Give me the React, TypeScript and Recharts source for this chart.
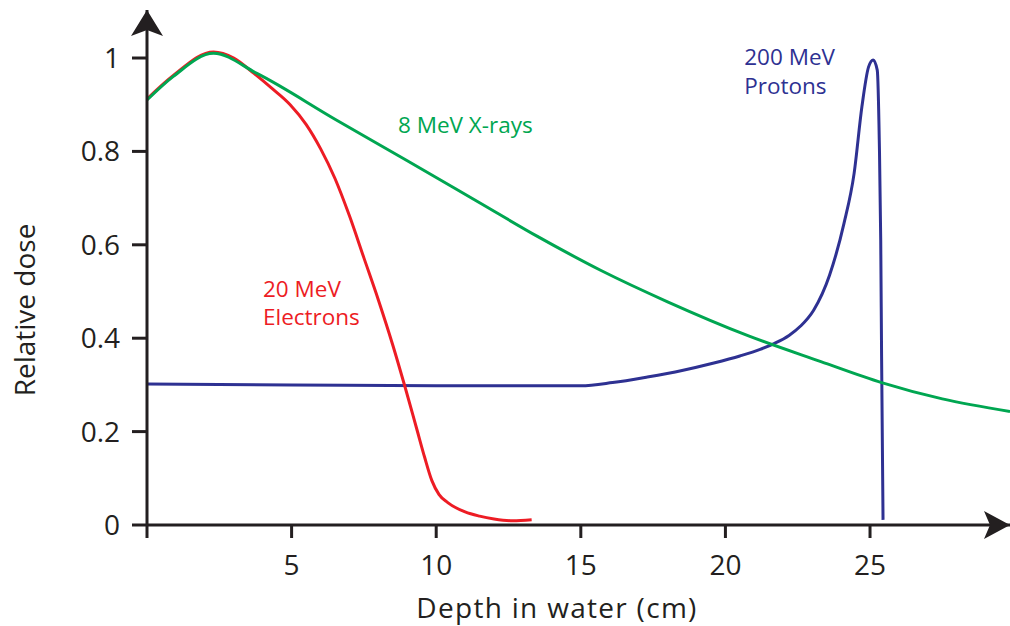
import React from 'react';
import { LineChart, Line, XAxis, YAxis, ReferenceDot, Label } from 'recharts';

const FONT = '"Open Sans", "DejaVu Sans", sans-serif';
const INK = '#231F20';
const RED = '#ED1C24';
const GREEN = '#00A651';
const BLUE = '#2E3192';

const depthTicks = [0, 5, 10, 15, 20, 25];
const doseTicks = [0, 0.2, 0.4, 0.6, 0.8, 1];
const depthMax = 29.84;
const doseMax = 1.1028;

// 8 MeV X-rays
const xrays = [
  { d: 0, v: 0.91 },
  { d: 0.9, v: 0.96 },
  { d: 2.3, v: 1.01 },
  { d: 3.8, v: 0.967 },
  { d: 6.5, v: 0.869 },
  { d: 9, v: 0.78 },
  { d: 11.5, v: 0.69 },
  { d: 13.5, v: 0.618 },
  { d: 15.7, v: 0.545 },
  { d: 18, v: 0.478 },
  { d: 20.8, v: 0.405 },
  { d: 23.3, v: 0.35 },
  { d: 25.4, v: 0.305 },
  { d: 27.5, v: 0.27 },
  { d: 29.84, v: 0.243 },
];

// 20 MeV electrons
const electrons = [
  { d: 0, v: 0.912 },
  { d: 0.9, v: 0.962 },
  { d: 2.3, v: 1.013 },
  { d: 3.0, v: 1.0 },
  { d: 3.7, v: 0.967 },
  { d: 4.3, v: 0.936 },
  { d: 4.95, v: 0.9 },
  { d: 5.5, v: 0.858 },
  { d: 6.0, v: 0.806 },
  { d: 6.5, v: 0.742 },
  { d: 7.0, v: 0.662 },
  { d: 7.5, v: 0.572 },
  { d: 8.0, v: 0.482 },
  { d: 8.5, v: 0.385 },
  { d: 8.92, v: 0.296 },
  { d: 9.33, v: 0.205 },
  { d: 9.6, v: 0.145 },
  { d: 9.85, v: 0.095 },
  { d: 10.1, v: 0.065 },
  { d: 10.4, v: 0.048 },
  { d: 11.0, v: 0.028 },
  { d: 11.5, v: 0.019 },
  { d: 12.0, v: 0.013 },
  { d: 12.65, v: 0.009 },
  { d: 13.3, v: 0.011 },
];

// 200 MeV protons
const protons = [
  { d: 0, v: 0.302 },
  { d: 5, v: 0.3 },
  { d: 10, v: 0.298 },
  { d: 15, v: 0.298 },
  { d: 16.1, v: 0.305 },
  { d: 17.3, v: 0.317 },
  { d: 18.5, v: 0.331 },
  { d: 19.6, v: 0.347 },
  { d: 20.5, v: 0.362 },
  { d: 21.2, v: 0.376 },
  { d: 21.7, v: 0.389 },
  { d: 22.2, v: 0.406 },
  { d: 22.6, v: 0.426 },
  { d: 23.05, v: 0.46 },
  { d: 23.6, v: 0.535 },
  { d: 24.1, v: 0.646 },
  { d: 24.45, v: 0.753 },
  { d: 24.72, v: 0.896 },
  { d: 24.95, v: 0.981 },
  { d: 25.11, v: 0.996 },
  { d: 25.25, v: 0.974 },
  { d: 25.32, v: 0.824 },
  { d: 25.37, v: 0.61 },
  { d: 25.4, v: 0.36 },
  { d: 25.45, v: 0.011 },
];

const annotations = [
  { d: 8.68, v: 0.839, lines: ['8 MeV X-rays'], color: GREEN },
  { d: 4.01, v: 0.489, lines: ['20 MeV', 'Electrons'], color: RED },
  { d: 20.65, v: 0.985, lines: ['200 MeV', 'Protons'], color: BLUE },
];

const XArrow = (p: any) => {
  const { cx, cy } = p;
  return (
    <path
      d={`M${cx},${cy} L${cx - 26},${cy - 14} L${cx - 20},${cy} L${cx - 26},${cy + 14} Z`}
      fill={INK}
    />
  );
};

const YArrow = (p: any) => {
  const { cx, cy } = p;
  return (
    <path
      d={`M${cx},${cy} L${cx - 16},${cy + 26} L${cx},${cy + 20} L${cx + 16},${cy + 26} Z`}
      fill={INK}
    />
  );
};

const makeText = (lines: string[], color: string) => (p: any) => {
  const { cx, cy } = p;
  return (
    <text x={cx} y={cy} fill={color} fontSize={22.5} fontFamily={FONT}>
      {lines.map((l, i) => (
        <tspan key={i} x={cx} y={cy + i * 28.5}>
          {l}
        </tspan>
      ))}
    </text>
  );
};

export default function App() {
  return (
    <div style={{ position: 'absolute', left: 0, top: 0, width: 1010, height: 626, background: '#fff' }}>
      <LineChart width={1010} height={626} margin={{ top: 10, right: 0, bottom: 0, left: 0 }}>
        <XAxis
          type="number"
          dataKey="d"
          domain={[0, depthMax]}
          ticks={depthTicks}
          allowDataOverflow
          height={101}
          tickSize={13}
          tickMargin={17}
          tickFormatter={(v: number) => (v === 0 ? '' : String(v))}
          axisLine={{ stroke: INK, strokeWidth: 3 }}
          tickLine={{ stroke: INK, strokeWidth: 3 }}
          tick={{ fill: INK, fontSize: 28, fontFamily: FONT }}
        >
          <Label
            content={(props: any) => {
              const vb = props.viewBox;
              return (
                <text
                  x={vb.x + vb.width / 2 - 21.5}
                  y={vb.y + 93}
                  textAnchor="middle"
                  fill={INK}
                  fontSize={28}
                  fontFamily={FONT}
                  letterSpacing={1.3}
                >
                  Depth in water (cm)
                </text>
              );
            }}
          />
        </XAxis>
        <YAxis
          type="number"
          dataKey="v"
          domain={[0, doseMax]}
          ticks={doseTicks}
          allowDataOverflow
          width={147}
          tickSize={15}
          tickMargin={12}
          tickFormatter={(v: number) => String(v)}
          axisLine={{ stroke: INK, strokeWidth: 3 }}
          tickLine={{ stroke: INK, strokeWidth: 3 }}
          tick={{ fill: INK, fontSize: 28, fontFamily: FONT }}
        >
          <Label
            content={(props: any) => {
              const vb = props.viewBox;
              const cy = vb.y + vb.height / 2 + 42.5;
              return (
                <text
                  transform={`translate(35,${cy}) rotate(-90)`}
                  textAnchor="middle"
                  fill={INK}
                  fontSize={28}
                  fontFamily={FONT}
                >
                  Relative dose
                </text>
              );
            }}
          />
        </YAxis>
        <Line data={protons} dataKey="v" type="monotone" stroke={BLUE} strokeWidth={3} dot={false} isAnimationActive={false} />
        <Line data={electrons} dataKey="v" type="monotone" stroke={RED} strokeWidth={3} dot={false} isAnimationActive={false} />
        <Line data={xrays} dataKey="v" type="monotone" stroke={GREEN} strokeWidth={3} dot={false} isAnimationActive={false} />
        <ReferenceDot x={depthMax} y={0} r={0} ifOverflow="visible" shape={XArrow} />
        <ReferenceDot x={0} y={doseMax} r={0} ifOverflow="visible" shape={YArrow} />
        {annotations.map((a, i) => (
          <ReferenceDot key={i} x={a.d} y={a.v} r={0} ifOverflow="visible" shape={makeText(a.lines, a.color)} />
        ))}
      </LineChart>
    </div>
  );
}
